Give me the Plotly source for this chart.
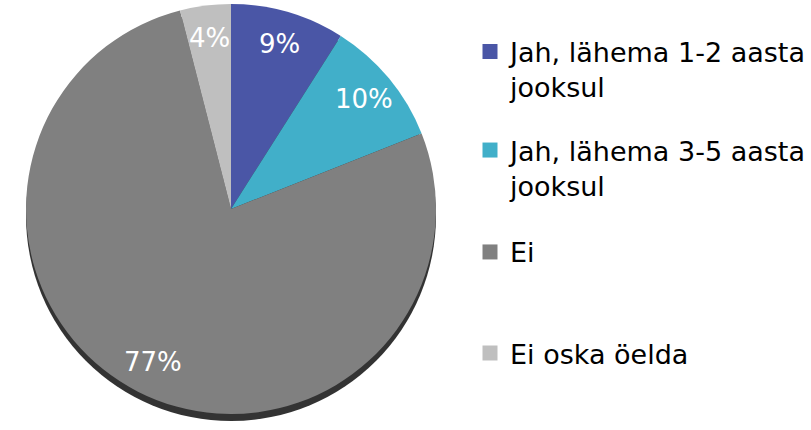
import math
import plotly.graph_objects as go

categories = ["Jah, lähema 1-2 aasta<br>jooksul", "Jah, lähema 3-5 aasta<br>jooksul", "Ei", "Ei oska öelda"]
slice_names = ["Jah, lähema 1-2 aasta jooksul", "Jah, lähema 3-5 aasta jooksul", "Ei", "Ei oska öelda"]
values = [9, 10, 77, 4]
colors = ["#4A56A6", "#41AFC9", "#808080", "#BFBFBF"]

W, H = 811, 430
cx, cy, r = 231, 209, 205  # pixel centre / radius of the pie
shadow_dy = 7
label_frac = 0.84


def dom(cx, cy, r):
    return dict(x=[(cx - r) / W, (cx + r) / W],
                y=[(H - cy - r) / H, (H - cy + r) / H])


fig = go.Figure()

# shadow under the pie
fig.add_trace(go.Pie(values=[1], labels=["shadow"], marker=dict(colors=["#333333"]),
                     textinfo="none", hoverinfo="skip", showlegend=False, sort=False,
                     domain=dom(cx, cy + shadow_dy, r)))

fig.add_trace(go.Pie(values=values, labels=slice_names, marker=dict(colors=colors),
                     sort=False, direction="clockwise", rotation=0,
                     textinfo="none", showlegend=False, domain=dom(cx, cy, r)))

# percentage labels placed along each slice's mid-angle
total = sum(values)
cum = 0
annotations = []
for v in values:
    mid = (cum + v / 2) / total * 2 * math.pi
    cum += v
    px = cx + label_frac * r * math.sin(mid)
    py = cy - label_frac * r * math.cos(mid)
    annotations.append(dict(x=px / W, y=1 - py / H, xref="paper", yref="paper",
                            text=f"{round(v / total * 100)}%", showarrow=False,
                            xanchor="center", yanchor="middle",
                            font=dict(family="DejaVu Sans", size=26, color="white")))

legend_tops = [0.936, 0.707, 0.470, 0.235]
legend_names = ["legend", "legend2", "legend3", "legend4"]
for i, (cat, col) in enumerate(zip(categories, colors)):
    fig.add_trace(go.Scatter(x=[None], y=[None], mode="markers", name=cat,
                             marker=dict(symbol="square", size=15, color=col),
                             legend=legend_names[i], showlegend=True))

layout_legends = {}
for i, ln in enumerate(legend_names):
    layout_legends[ln] = dict(x=470 / W, y=legend_tops[i], xanchor="left", yanchor="top",
                              bgcolor="rgba(0,0,0,0)", valign="top",
                              font=dict(family="DejaVu Sans", size=27, color="black"))

fig.update_layout(width=W, height=H, margin=dict(l=0, r=0, t=0, b=0, autoexpand=False),
                  paper_bgcolor="white", plot_bgcolor="white",
                  xaxis=dict(visible=False), yaxis=dict(visible=False),
                  annotations=annotations, **layout_legends)

fig.write_html("out.html", config={"displayModeBar": False},
               post_script="document.body.style.margin='0';")
